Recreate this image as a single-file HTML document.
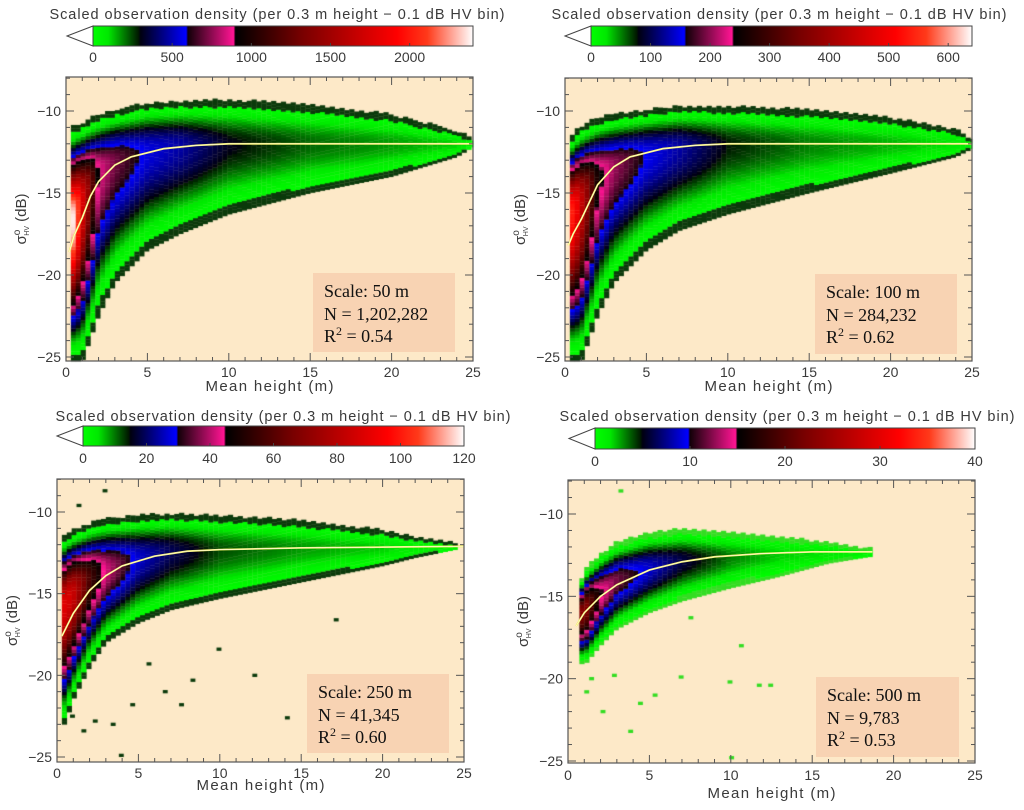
<!DOCTYPE html>
<html><head><meta charset="utf-8"><style>
html,body{margin:0;padding:0;background:#fff;}
#wrap{position:relative;width:1024px;height:810px;overflow:hidden;}
#heat{position:absolute;left:0;top:0;}
#svg{position:absolute;left:0;top:0;}
text{font-family:"Liberation Sans",sans-serif;fill:#3a3a3a;}
.ann{font-family:"Liberation Serif",serif;fill:#111;font-size:18px;}
</style></head><body>
<div id="wrap">
<canvas id="heat" width="1024" height="810"></canvas>
<svg id="svg" width="1024" height="810" xmlns="http://www.w3.org/2000/svg"></svg>
</div>
<script>
// ---------- DATA ----------
// Panel 50 m
const p50Heights=[0.3,0.5,1,2,3,5,7,10,15,20,24,25];
const p50Top=[-11.2,-11,-10.8,-10.3,-10,-9.6,-9.5,-9.4,-9.7,-10.3,-11.3,-11.8];
const p50Bottom=[-25.3,-25.3,-25.3,-22.5,-20.5,-18.5,-17.5,-16.3,-15,-14,-12.8,-12.2];
const p50Center=[-16.8,-16.5,-15.5,-13.6,-13,-12.4,-12.1,-12,-12,-12,-12,-12];
const p50Peak=[0.95,1.0,0.75,0.36,0.3,0.23,0.2,0.13,0.09,0.07,0.05,0.03];
const p50CurveX=[0.2,0.5,1,1.5,2,3,4,6,8,10,15,25];
const p50CurveY=[-18.6,-17.6,-16.5,-15.2,-14.3,-13.3,-12.8,-12.3,-12.1,-12.0,-12.0,-12.0];
const p50CbTicks=[0,500,1000,1500,2000];
const p50CbMax=2400;
// Panel 100 m
const p100Heights=[0.3,0.5,1,2,3,5,7,10,15,20,24,25];
const p100Top=[-11.8,-11.5,-11,-10.5,-10.3,-10,-9.8,-9.8,-10,-10.5,-11.2,-11.8];
const p100Bottom=[-25.3,-25.3,-25.3,-22.5,-20.5,-18.5,-17.3,-16.3,-15,-13.8,-12.8,-12.3];
const p100Center=[-16.5,-16,-15.5,-14,-13.3,-12.6,-12.2,-12,-12,-12,-12,-12];
const p100Peak=[0.8,0.85,0.7,0.4,0.32,0.24,0.2,0.12,0.08,0.06,0.04,0.03];
const p100CurveX=[0.2,0.5,1,2,3,4,6,8,10,15,25];
const p100CurveY=[-18.2,-17.5,-16.6,-14.5,-13.4,-12.8,-12.3,-12.1,-12.0,-12.0,-12.0];
const p100CbTicks=[0,100,200,300,400,500,600];
const p100CbMax=640;
// Panel 250 m
const p250Heights=[0.3,0.5,1,2,3,5,7,10,15,20,22,24.5];
const p250Top=[-11.8,-11.5,-11.2,-10.8,-10.5,-10.3,-10.2,-10.3,-10.6,-11.2,-11.6,-12];
const p250Bottom=[-23,-23,-21.5,-19.5,-18,-16.8,-16,-15.3,-14.3,-13.3,-12.8,-12.3];
const p250Center=[-16,-15.5,-15,-14,-13.5,-12.8,-12.4,-12.3,-12.2,-12.2,-12.2,-12.2];
const p250Peak=[0.72,0.75,0.7,0.48,0.35,0.22,0.16,0.1,0.07,0.05,0.03,0.02];
const p250CurveX=[0.3,1,2,3,4,6,8,10,15,25];
const p250CurveY=[-17.6,-16.2,-14.8,-13.9,-13.3,-12.7,-12.4,-12.3,-12.2,-12.1];
const p250CbTicks=[0,20,40,60,80,100,120];
const p250CbMax=120;
const p250OutX=[0.8,1.5,2.2,3.3,4.5,6.5,8.2,9.8,12,14,17,1.2,2.8,5.5,7.5,3.8];
const p250OutY=[-22.5,-23.4,-22.8,-23,-21.8,-21,-20.3,-18.4,-20,-22.6,-16.6,-9.6,-8.7,-19.3,-21.8,-24.9];
// Panel 500 m
const p500Heights=[0.7,1,2,3,5,7,10,13,16,18.5];
const p500Top=[-14.5,-13.5,-12.5,-11.8,-11.2,-11,-11.2,-11.5,-11.8,-12.2];
const p500Bottom=[-19,-19.2,-18,-17,-16,-15.3,-14.5,-13.8,-13,-12.6];
const p500Center=[-16,-15.8,-14.8,-14,-13.3,-12.8,-12.6,-12.5,-12.4,-12.4];
const p500Peak=[0.55,0.6,0.38,0.3,0.22,0.15,0.08,0.05,0.04,0.02];
const p500CurveX=[0.5,1,2,3,5,7,9,12,15,18.7];
const p500CurveY=[-16.8,-16.0,-15.0,-14.3,-13.4,-12.9,-12.6,-12.4,-12.3,-12.3];
const p500CbTicks=[0,10,20,30,40];
const p500CbMax=40;
const p500OutX=[1,1.3,2,2.7,3.7,5.2,6.8,9.8,10.5,11.6,12.3,3.1,9.9,7.4,4.3];
const p500OutY=[-20.8,-20,-22,-19.8,-23.2,-21,-19.9,-20.2,-18,-20.4,-20.4,-8.6,-24.8,-16.3,-21.5];

// ---------- layout (not data) ----------
const panels=[
 {id:'p50',label:'Scale: 50 m',n:'N = 1,202,282',r:'0.54',L:66,R:473,T:77,B:361,y10:111,y25:357,cbL:93,cbT:26,cbB:46,tip:67,titleX:277,titleY:19,cbLabY:62,xLabY:377,xTitleY:391,box:[313,273,142,79],rim:'#0b3a0b',
  H:p50Heights,Tp:p50Top,Bt:p50Bottom,C:p50Center,P:p50Peak,cx:p50CurveX,cy:p50CurveY,ticks:p50CbTicks,max:p50CbMax},
 {id:'p100',label:'Scale: 100 m',n:'N = 284,232',r:'0.62',L:565,R:972,T:78,B:361,y10:111,y25:357,cbL:591,cbT:26,cbB:46,tip:565,titleX:779,titleY:19,cbLabY:62,xLabY:377,xTitleY:391,box:[815,274,142,80],rim:'#0b3a0b',
  H:p100Heights,Tp:p100Top,Bt:p100Bottom,C:p100Center,P:p100Peak,cx:p100CurveX,cy:p100CurveY,ticks:p100CbTicks,max:p100CbMax},
 {id:'p250',label:'Scale: 250 m',n:'N = 41,345',r:'0.60',L:57,R:464,T:479,B:762,y10:512,y25:757,cbL:83,cbT:426,cbB:446,tip:57,titleX:283,titleY:421,cbLabY:463,xLabY:778,xTitleY:790,box:[307,674,142,79],rim:'#0b3a0b',
  H:p250Heights,Tp:p250Top,Bt:p250Bottom,C:p250Center,P:p250Peak,cx:p250CurveX,cy:p250CurveY,ticks:p250CbTicks,max:p250CbMax,ox:p250OutX,oy:p250OutY},
 {id:'p500',label:'Scale: 500 m',n:'N = 9,783',r:'0.53',L:568,R:975,T:480,B:763,y10:514,y25:761,cbL:595,cbT:428,cbB:449,tip:569,titleX:787,titleY:421,cbLabY:466,xLabY:780,xTitleY:798,box:[816,677,143,80],rim:'#33dd22',
  H:p500Heights,Tp:p500Top,Bt:p500Bottom,C:p500Center,P:p500Peak,cx:p500CurveX,cy:p500CurveY,ticks:p500CbTicks,max:p500CbMax,ox:p500OutX,oy:p500OutY}
];
const stops=[[0,'#00ff00'],[0.04,'#00e800'],[0.12,'#001800'],[0.125,'#000010'],[0.245,'#0000ff'],[0.25,'#120008'],[0.37,'#ff1493'],[0.375,'#000000'],[0.55,'#780000'],[0.8,'#ff0000'],[0.88,'#ff3a1a'],[1,'#ffffff']];

function hex(c){return [parseInt(c.substr(1,2),16),parseInt(c.substr(3,2),16),parseInt(c.substr(5,2),16)];}
function cmap(v){
  v=Math.max(0,Math.min(1,v));
  for(let i=1;i<stops.length;i++){
    if(v<=stops[i][0]){const a=stops[i-1],b=stops[i];const t=(v-a[0])/(b[0]-a[0]||1);
      const ca=hex(a[1]),cb=hex(b[1]);return 'rgb('+ca.map((x,k)=>Math.round(x+(cb[k]-x)*t)).join(',')+')';}
  }
  return '#ffffff';
}
function interp(xs,ys,x){
  if(x<=xs[0])return ys[0];
  for(let i=1;i<xs.length;i++){if(x<=xs[i]){const t=(x-xs[i-1])/(xs[i]-xs[i-1]);return ys[i-1]+(ys[i]-ys[i-1])*t;}}
  return ys[ys.length-1];
}
const NS='http://www.w3.org/2000/svg';
const svg=document.getElementById('svg');
const ctx=document.getElementById('heat').getContext('2d');
function el(tag,attrs,parent,txt){const e=document.createElementNS(NS,tag);for(const k in attrs)e.setAttribute(k,attrs[k]);if(txt!==undefined)e.textContent=txt;(parent||svg).appendChild(e);return e;}

const defs=el('defs',{});
const grad=el('linearGradient',{id:'cbgrad',x1:'0',x2:'1',y1:'0',y2:'0'},defs);
stops.forEach(s=>el('stop',{offset:s[0],'stop-color':s[1]},grad));

panels.forEach(p=>{
  const X=h=>p.L+h/25*(p.R-p.L);
  const Y=s=>p.y10+(-10-s)*(p.y25-p.y10)/15;
  ctx.fillStyle='#fde9c8';ctx.fillRect(p.L,p.T,p.R-p.L,p.B-p.T);
  const dx=0.3,ds=0.2;
  const h0=p.H[0],h1=p.H[p.H.length-1];
  for(let h=h0;h<h1;h+=dx){
    const hm=h+dx/2;
    const top=interp(p.H,p.Tp,hm),bot=interp(p.H,p.Bt,hm),c=interp(p.H,p.C,hm),pk=interp(p.H,p.P,hm);
    for(let s=Math.max(bot,-25.25);s<top;s+=ds){
      const sm=s+ds/2;
      let d=sm>c?(sm-c)/(top-c):(c-sm)/(c-bot);
      d=Math.min(1,Math.abs(d));
      const v=pk*Math.pow(1-d*d,2.2);
      ctx.fillStyle=v<0.006?p.rim:cmap(v);
      const x1=X(h),x2=X(Math.min(h+dx,25)),y1=Y(s+ds),y2=Y(s);
      if(y2<p.T)continue;
      ctx.fillRect(x1,Math.max(y1,p.T),x2-x1+0.3,Math.min(y2,p.B)-Math.max(y1,p.T)+0.3);
    }
  }
  if(p.ox){p.ox.forEach((h,i)=>{ctx.fillStyle=p.rim;ctx.fillRect(X(h),Y(p.oy[i]+0.1),X(0.3)-X(0),Y(0)-Y(0.2));});}

  const g=el('g',{});
  
  
  const pts=p.cx.map((h,i)=>X(h).toFixed(1)+','+Y(p.cy[i]).toFixed(1)).join(' ');
  const cl=el('polyline',{points:pts,fill:'none',stroke:'#f2ee60','stroke-width':'1.8'},g);
  
  
  const cl2=el('polyline',{points:pts,fill:'none',stroke:'#fffbe0','stroke-width':'0.7'},g);
  
  
  const b=p.box;
  const ab=el('rect',{x:b[0],y:b[1],width:b[2],height:b[3],fill:'#f8d3b3'},g);
  
  
  const t1=el('text',{x:b[0]+11,y:b[1]+24,class:'ann'},g,p.label);
  
  
  const t2=el('text',{x:b[0]+11,y:b[1]+47,class:'ann'},g,p.n);
  
  
  const t3=el('text',{x:b[0]+11,y:b[1]+69,class:'ann'},g);
  t3.innerHTML='R<tspan dy="-7" font-size="12">2</tspan><tspan dy="7"> = '+p.r+'</tspan>';
  
  
  const fr=el('rect',{x:p.L,y:p.T,width:p.R-p.L,height:p.B-p.T,fill:'none',stroke:'#555','stroke-width':'1.2'},g);
  
  
  for(let h=0;h<=25;h++){
    const len=h%5===0?8:4,x=X(h);
    el('line',{x1:x,x2:x,y1:p.B,y2:p.B-len,stroke:'#555'},g);
    el('line',{x1:x,x2:x,y1:p.T,y2:p.T+len,stroke:'#555'},g);
    if(h%5===0){const tl=el('text',{x:x,y:p.xLabY,'text-anchor':'middle','font-size':'14'},g,String(h));
      
      }
  }
  for(let s=-25;s<=-8;s++){
    const y=Y(s);if(y<p.T)continue;
    const len=s%5===0?8:4;
    el('line',{x1:p.L,x2:p.L+len,y1:y,y2:y,stroke:'#555'},g);
    el('line',{x1:p.R,x2:p.R-len,y1:y,y2:y,stroke:'#555'},g);
    if(s%5===0){const tl=el('text',{x:p.L-5,y:y+5,'text-anchor':'end','font-size':'14'},g,'\u2212'+(-s));
      
      }
  }
  const xt=el('text',{x:(p.L+p.R)/2,y:p.xTitleY,'text-anchor':'middle','font-size':'15',textLength:'128',lengthAdjust:'spacing'},g,'Mean height (m)');
  
  
  const yc=(p.T+p.B)/2;
  const yt=el('text',{x:p.L-40,y:yc,'text-anchor':'middle','font-size':'15',transform:'rotate(-90 '+(p.L-40)+' '+yc+')'},g);
  yt.innerHTML='\u03c3<tspan dy="-6" font-size="10">o</tspan><tspan dx="-6" dy="9" font-size="7">HV</tspan><tspan dy="-3"> (dB)</tspan>';
  
  
  const cbR=p.R;
  const ar=el('polygon',{points:p.tip+','+((p.cbT+p.cbB)/2)+' '+p.cbL+','+p.cbT+' '+p.cbL+','+p.cbB,fill:'#fff',stroke:'#444'},g);
  
  
  const cb=el('rect',{x:p.cbL,y:p.cbT,width:cbR-p.cbL,height:p.cbB-p.cbT,fill:'url(#cbgrad)',stroke:'#444'},g);
  
  
  p.ticks.forEach(v=>{
    const x=p.cbL+v/p.max*(cbR-p.cbL);
    el('line',{x1:x,x2:x,y1:p.cbB,y2:p.cbB-3,stroke:'#444'},g);
    const tl=el('text',{x:x,y:p.cbLabY,'text-anchor':'middle','font-size':'14'},g,String(v));
    
    
  });
  const ct=el('text',{x:p.titleX,y:p.titleY,'text-anchor':'middle','font-size':'14.5',textLength:'455',lengthAdjust:'spacing'},g,'Scaled observation density (per 0.3 m height \u2212 0.1 dB HV bin)');
  
  
});
</script>
</body></html>
